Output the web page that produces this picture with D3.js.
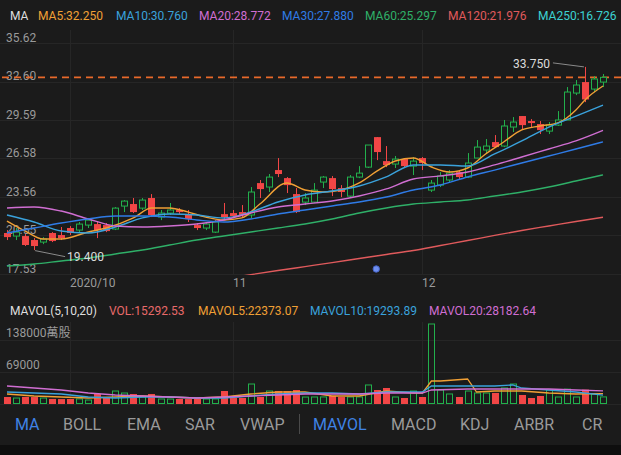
<!DOCTYPE html>
<html><head><meta charset="utf-8">
<script src="https://cdn.jsdelivr.net/npm/d3@7/dist/d3.min.js"></script>
<style>
html,body{margin:0;padding:0;background:#1b1b1b;overflow:hidden;}
svg{display:block;font-family:Roboto,"Noto Sans CJK TC",sans-serif;}
</style></head><body>
<svg id="c" width="621" height="455"></svg>
<script>
// ---------------- DATA ----------------
const opens  = [20.74,20.50,20.50,20.19,20.03,20.74,20.58,21.13,20.97,21.36,
                21.44,21.36,21.05,22.85,23.01,22.69,23.48,21.99,22.30,22.54,
                22.22,21.36,21.13,20.81,22.22,22.30,22.38,22.15,24.65,24.34,
                25.67,25.04,23.79,23.16,23.16,24.73,25.04,24.26,23.63,25.12,
                25.90,28.25,26.37,26.14,26.53,25.98,26.61,24.10,24.49,24.89,
                25.51,25.12,26.61,27.24,27.86,27.55,29.04,29.90,29.51,29.27,
                28.72,29.19,29.59,31.70,32.56,32.01,32.56];
const closes = [20.42,20.81,19.80,19.72,20.27,20.11,20.34,20.74,21.44,21.75,
                20.97,20.89,22.69,23.24,22.38,23.32,22.15,22.30,22.54,22.38,
                21.83,21.13,21.44,21.60,21.99,22.07,22.15,23.95,24.18,25.12,
                25.36,24.49,22.38,23.48,24.10,25.12,24.18,23.95,25.12,25.43,
                27.63,27.08,26.06,26.53,25.98,26.37,26.22,24.65,25.20,25.43,
                25.12,26.22,27.47,27.55,27.47,29.12,29.43,29.19,29.35,28.80,
                29.19,29.59,31.78,32.33,31.20,32.80,32.93];
const highs  = [20.97,21.13,20.66,20.34,20.42,20.81,21.21,21.28,21.60,21.91,
                21.68,21.52,22.77,23.32,23.48,23.48,23.79,22.54,23.09,22.69,
                22.54,21.52,21.60,21.75,23.09,22.54,22.93,24.34,24.89,25.36,
                26.61,25.12,24.26,23.87,24.65,25.20,25.20,24.49,25.28,25.98,
                27.63,28.25,27.55,26.77,26.61,26.69,26.69,24.89,25.51,25.67,
                25.67,27.00,28.02,28.10,28.41,29.59,29.82,29.90,29.66,29.51,
                29.43,30.29,32.17,32.72,33.75,33.03,33.19];
const lows   = [20.19,20.19,19.72,19.40,19.87,20.03,20.19,20.58,20.81,21.13,
                20.34,20.81,20.97,22.38,22.30,22.54,21.99,21.75,22.15,22.22,
                21.60,20.97,20.97,20.74,21.75,21.91,21.99,21.91,23.48,23.95,
                25.12,23.87,22.30,22.93,23.09,24.26,23.63,23.55,23.55,25.04,
                25.83,26.45,25.90,25.83,25.83,25.28,25.67,23.95,24.34,24.73,
                24.89,25.04,26.61,27.00,27.39,27.47,28.65,28.80,29.04,28.49,
                28.49,29.12,29.59,31.54,30.99,31.78,32.17];
const volumes = [15100,12900,15300,15000,12800,10900,10600,10800,11000,8600,
                 21600,15200,28000,23700,21500,15100,21600,10800,10700,10900,
                 10600,10800,10700,10900,28000,12900,13000,43100,15100,28000,
                 28100,27900,30200,15000,15100,15200,17300,15000,15100,15200,
                 41000,30200,34500,15100,12900,28000,15100,172500,30200,21600,
                 15100,28000,23700,23700,23800,34500,43100,19400,12900,17300,
                 30200,15100,32000,15100,31000,21600,15292.53];

const ma5Idx = [0,2,4,6,9,11,14,16,18,20,22,24,26,28,31,33,35,37,39,41,43,45,47,49,51,53,55,57,59,61,63,64,66];
const ma5    = [21.68,20.90,20.27,20.27,20.82,21.13,21.92,22.70,22.70,22.39,21.99,21.76,21.92,23.01,24.66,24.11,23.95,24.11,24.66,25.60,26.38,26.61,25.91,25.52,25.83,26.93,27.87,28.81,29.12,29.36,30.37,31.16,32.25];
const maIdx  = [0,3,6,9,12,15,18,21,24,27,30,33,36,39,42,45,48,51,54,57,60,63,66];
const ma10   = [22.15,21.60,20.90,20.74,21.21,21.92,22.23,22.15,21.92,22.39,23.17,23.72,24.03,24.42,25.13,26.07,26.07,25.99,26.93,27.95,29.04,29.90,30.76];
const ma20   = [22.70,22.78,22.46,21.84,21.29,21.21,21.29,21.45,21.76,22.31,22.78,23.01,23.25,23.64,24.19,24.97,25.21,25.52,26.07,26.69,27.32,27.95,28.772];
const ma30   = [20.74,21.13,21.52,21.84,22.07,22.07,21.99,21.76,21.60,21.84,22.23,22.54,22.86,23.17,23.56,24.11,24.50,25.13,25.67,26.22,26.77,27.32,27.88];
const ma60   = [18.16,18.31,18.55,18.78,19.10,19.41,19.80,20.19,20.51,20.82,21.13,21.45,21.84,22.31,22.70,23.01,23.17,23.33,23.64,23.95,24.34,24.81,25.297];
const ma120Idx = [24,27,30,33,36,39,42,45,48,51,54,57,60,63,66];
const ma120  = [17.15,17.48,17.80,18.11,18.42,18.74,19.06,19.37,19.76,20.15,20.55,20.94,21.29,21.64,21.976];

const mavol5Idx = [0,3,6,9,12,15,18,21,24,27,30,33,36,39,42,45,46,47,48,51,52,54,57,60,63,66];
const mavol5    = [21560,17250,15090,12940,15090,17250,15090,12940,15090,21560,25880,25880,17250,17250,28030,23720,23720,49590,49590,53910,25880,28030,28030,23720,21560,22373.07];
const mavol10Idx = [0,3,6,9,12,15,18,21,24,27,30,33,36,39,42,45,46,47,51,54,56,57,60,63,66];
const mavol10    = [25880,23720,21560,15090,12940,15090,15090,12940,12940,17250,21560,23720,23720,21560,25880,25880,25880,38810,38810,38810,40970,34500,30190,25880,19293.89];
const mavol20Idx = [0,3,6,9,12,15,18,21,24,27,30,33,36,39,42,45,46,47,51,54,57,60,63,66];
const mavol20    = [38810,34500,30190,23720,19410,17250,15090,12940,15090,17250,19410,21560,21560,21560,23720,23720,23720,30190,32340,32340,32340,32340,30190,28182.64];

const priceTicks = [35.62,32.60,29.59,26.58,23.56,20.55,17.53];
const volTicks = [138000,69000];
const volTickLabels = ["138000萬股","69000"];
const monthIdx = [7,25,46];
const monthLabels = ["2020/10","11","12"];
const maNames = ["MA5","MA10","MA20","MA30","MA60","MA120","MA250"];
const maLast  = [32.250,30.760,28.772,27.880,25.297,21.976,16.726];
const lastPrice = 32.93;
const eventIdx = [41];
const tabs = ["MA","BOLL","EMA","SAR","VWAP","MAVOL","MACD","KDJ","ARBR","CR"];
const activeTabs = ["MA","MAVOL"];

// ---------------- STYLE ----------------
const W=621,H=455,BG='#1b1b1b';
const RED='#f24646', GREEN='#22b04c';
const maColors=['#f0a035','#3aa2dc','#d06ed2','#2f7be6','#2fb068','#e05a5c','#3cd2d2'];
const grid='#262626', axisTxt='#9a9a9a';

const svg=d3.select('#c');
svg.append('rect').attr('width',W).attr('height',H).attr('fill',BG);
svg.append('rect').attr('y',445).attr('width',W).attr('height',10).attr('fill','#0e0e0e');

const x=d3.scaleLinear().domain([0,66]).range([7,603]);
const y=d3.scaleLinear().domain([17.53,35.62]).range([274,43]);
const yv=d3.scaleLinear().domain([0,138000]).range([404,340]);

const defs=svg.append('defs');
defs.append('clipPath').attr('id','mainClip').append('rect').attr('x',0).attr('y',30).attr('width',W).attr('height',245);

// grid
const g=svg.append('g');
priceTicks.forEach(t=>{
  g.append('line').attr('x1',0).attr('x2',W).attr('y1',Math.round(y(t))+0.5).attr('y2',Math.round(y(t))+0.5).attr('stroke',grid);
});
volTicks.concat([0]).forEach(t=>{
  g.append('line').attr('x1',0).attr('x2',W).attr('y1',Math.round(yv(t))+0.5).attr('y2',Math.round(yv(t))+0.5).attr('stroke',grid);
});
monthIdx.forEach(i=>{
  const xx=Math.round(x(i))+0.5;
  g.append('line').attr('x1',xx).attr('x2',xx).attr('y1',30).attr('y2',274).attr('stroke',grid);
  g.append('line').attr('x1',xx).attr('x2',xx).attr('y1',322).attr('y2',404).attr('stroke',grid);
});

// axis labels
priceTicks.forEach(t=>{
  svg.append('text').attr('x',6).attr('y',y(t)-1.5).attr('fill',axisTxt).attr('font-size',12).text(d3.format('.2f')(t));
});
volTicks.forEach((t,k)=>{
  svg.append('text').attr('x',6).attr('y',yv(t)-3).attr('fill',axisTxt).attr('font-size',12).text(volTickLabels[k]);
});
monthIdx.forEach((i,k)=>{
  svg.append('text').attr('x',Math.round(x(i))).attr('y',287).attr('fill',axisTxt).attr('font-size',12).text(monthLabels[k]);
});

// last price dashed line
svg.append('line').attr('x1',2).attr('x2',W).attr('y1',y(lastPrice)).attr('y2',y(lastPrice))
  .attr('stroke','#e8692a').attr('stroke-width',1.7).attr('stroke-dasharray','7,5');

// candles
const main=svg.append('g').attr('clip-path','url(#mainClip)');
const bw=7;
closes.forEach((c,i)=>{
  const o=opens[i], up=c>=o, col=up?GREEN:RED, cx=Math.round(x(i))+0.5;
  const top=y(Math.max(o,c)), bot=y(Math.min(o,c));
  main.append('line').attr('x1',cx).attr('x2',cx).attr('y1',y(highs[i])).attr('y2',y(lows[i])).attr('stroke',col).attr('stroke-width',1);
  if(up){
    main.append('rect').attr('x',cx-3).attr('y',top).attr('width',bw-1).attr('height',Math.max(bot-top,1))
      .attr('fill',BG).attr('stroke',col).attr('stroke-width',1);
  } else {
    main.append('rect').attr('x',cx-3.5).attr('y',top).attr('width',bw).attr('height',Math.max(bot-top,1.2)).attr('fill',col);
  }
});

// MA lines
const lineGen=(idx,vals,sc,curve)=>d3.line().x((d,k)=>x(idx[k])).y(d=>sc(d)).curve(curve)(vals);
[[ma5Idx,ma5,0],[maIdx,ma10,1],[maIdx,ma20,2],[maIdx,ma30,3],[maIdx,ma60,4],[ma120Idx,ma120,5]].forEach(([idx,vals,c])=>{
  main.append('path').attr('d',lineGen(idx,vals,y,d3.curveMonotoneX)).attr('fill','none').attr('stroke',maColors[c]).attr('stroke-width',1.4);
});

// event marker
eventIdx.forEach(i=>{
  svg.append('circle').attr('cx',x(i)-1).attr('cy',269).attr('r',3.2).attr('fill','#6f8ff0').attr('stroke','#4563c4').attr('stroke-width',1);
});

// min / max annotations
const minI=d3.minIndex(lows), maxI=d3.maxIndex(highs);
svg.append('line').attr('x1',x(minI)+1).attr('y1',y(lows[minI])+0.5).attr('x2',x(minI)+31).attr('y2',y(lows[minI])+6.5).attr('stroke','#8a8a8a').attr('stroke-width',1);
svg.append('text').attr('x',x(minI)+33).attr('y',y(lows[minI])+11).attr('fill','#dcdcdc').attr('font-size',12).text(d3.format('.3f')(lows[minI]));
svg.append('line').attr('x1',x(maxI)-1).attr('y1',y(highs[maxI])).attr('x2',x(maxI)-32).attr('y2',y(highs[maxI])-4).attr('stroke','#8a8a8a').attr('stroke-width',1);
svg.append('text').attr('x',x(maxI)-35).attr('y',y(highs[maxI])+1).attr('text-anchor','end').attr('fill','#dcdcdc').attr('font-size',12).text(d3.format('.3f')(highs[maxI]));

// header legend
const hdrX=[10,38,116,199,282,365,448,538];
svg.append('text').attr('x',hdrX[0]).attr('y',19.5).attr('fill','#dedede').attr('font-size',12).text('MA');
maNames.forEach((n,k)=>{
  svg.append('text').attr('x',hdrX[k+1]).attr('y',19.5).attr('fill',maColors[k]).attr('font-size',12).text(n+':'+d3.format('.3f')(maLast[k]));
});

// volume bars
const vg=svg.append('g');
volumes.forEach((v,i)=>{
  const up=closes[i]>=opens[i], cx=Math.round(x(i))+0.5, top=yv(v), bot=yv(0);
  if(up){
    vg.append('rect').attr('x',cx-3).attr('y',top).attr('width',bw-1).attr('height',Math.max(bot-top-0.5,1))
      .attr('fill','none').attr('stroke',GREEN).attr('stroke-width',1);
  } else {
    vg.append('rect').attr('x',cx-3.5).attr('y',top).attr('width',bw).attr('height',bot-top).attr('fill',RED);
  }
});
[[mavol5Idx,mavol5,'#f0a035'],[mavol10Idx,mavol10,'#3aa2dc'],[mavol20Idx,mavol20,'#d06ed2']].forEach(([idx,vals,col])=>{
  vg.append('path').attr('d',lineGen(idx,vals,yv,d3.curveLinear)).attr('fill','none').attr('stroke',col).attr('stroke-width',1.3);
});

// volume legend
const volLeg=[['MAVOL(5,10,20)','#dedede',10],['VOL:15292.53','#e86a6a',109],['MAVOL5:22373.07','#f0a035',198],['MAVOL10:19293.89','#3aa2dc',310],['MAVOL20:28182.64','#d06ed2',429]];
volLeg.forEach(([t,c,xx])=>svg.append('text').attr('x',xx).attr('y',314.5).attr('fill',c).attr('font-size',12).text(t));

// tab bar
const tabX=[15,63,127,185,240,313,391,460,514,582];
tabs.forEach((t,k)=>{
  svg.append('text').attr('x',tabX[k]).attr('y',430).attr('font-size',16)
    .attr('fill',activeTabs.includes(t)?'#3f83e6':'#9a9a9a').text(t);
});
svg.append('line').attr('x1',299.5).attr('x2',299.5).attr('y1',414).attr('y2',434).attr('stroke','#4a4a4a').attr('stroke-width',1);
</script>
</body></html>
